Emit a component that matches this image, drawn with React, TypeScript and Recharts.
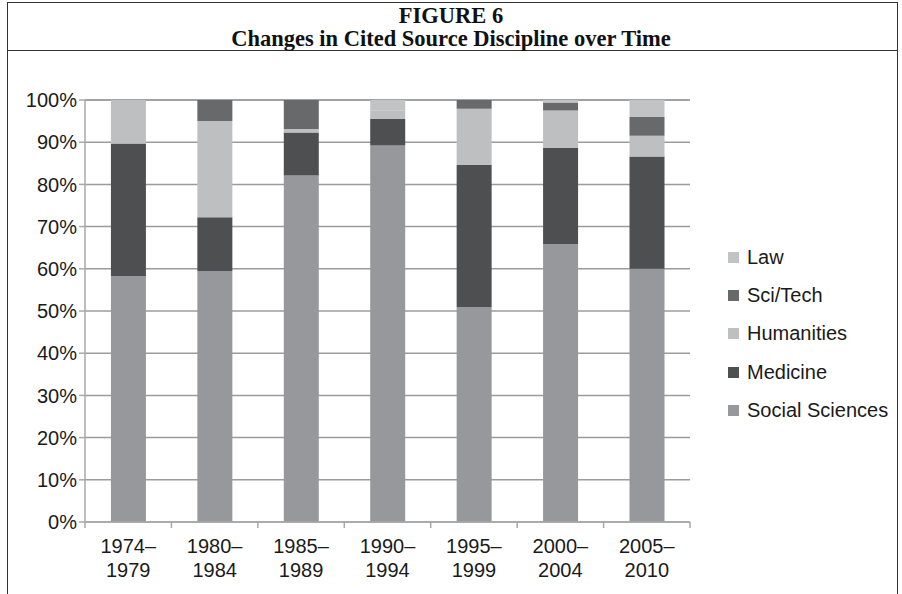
import React from 'react';
import { BarChart, Bar, XAxis, YAxis, CartesianGrid } from 'recharts';

// periods, split into the two label lines shown under each bar
const periodStart = ['1974–', '1980–', '1985–', '1990–', '1995–', '2000–', '2005–'];
const periodEnd = ['1979', '1984', '1989', '1994', '1999', '2004', '2010'];

// share of cited sources per discipline (%)
const socialSciences = [58.3, 59.5, 82.1, 89.2, 50.9, 65.9, 60.0];
const medicine = [31.4, 12.7, 10.2, 6.3, 33.7, 22.7, 26.6];
const humanities = [10.3, 22.8, 0.8, 2.1, 13.3, 8.9, 4.9];
const sciTech = [0, 5.0, 6.9, 0, 2.1, 1.9, 4.5];
const law = [0, 0, 0, 2.4, 0, 0.6, 4.0];

const yTicks = [0, 10, 20, 30, 40, 50, 60, 70, 80, 90, 100];

// bottom to top stacking order
const series = [
  { key: 'socialSciences', name: 'Social Sciences', color: '#97989b' },
  { key: 'medicine', name: 'Medicine', color: '#4e4f51' },
  { key: 'humanities', name: 'Humanities', color: '#bebfc1' },
  { key: 'sciTech', name: 'Sci/Tech', color: '#68696b' },
  { key: 'law', name: 'Law', color: '#c2c3c5' },
];

const data = periodStart.map((start, i) => ({
  period: start + periodEnd[i],
  socialSciences: socialSciences[i],
  medicine: medicine[i],
  humanities: humanities[i],
  sciTech: sciTech[i],
  law: law[i],
}));

const FONT = '"Liberation Sans", Arial, sans-serif';
const AXIS = '#a9a9a9';

// two-line period label plus the tick marks between categories
const PeriodTick = (props: any) => {
  const { x, y, index, payload, visibleTicksCount } = props;
  const half = payload && payload.offset ? payload.offset : 43.2;
  const isLast = index === (visibleTicksCount ?? periodStart.length) - 1;
  return (
    <g>
      <line x1={x - half} x2={x - half} y1={y} y2={y + 6} stroke={AXIS} strokeWidth={1.5} />
      {isLast && <line x1={x + half} x2={x + half} y1={y} y2={y + 6} stroke={AXIS} strokeWidth={1.5} />}
      <text x={x} y={y} textAnchor="middle" fontFamily={FONT} fontSize={20} fill="#1a1a1a">
        <tspan x={x} dy={31}>{periodStart[index]}</tspan>
        <tspan x={x} dy={24}>{periodEnd[index]}</tspan>
      </text>
    </g>
  );
};

export default function App() {
  const legendRows = [...series].reverse();
  return (
    <div style={{ position: 'absolute', left: 0, top: 0, width: 902, height: 594, background: '#fff', overflow: 'hidden' }}>
      {/* frame */}
      <div style={{ position: 'absolute', left: 7, top: 2, width: 891, height: 600, border: '1.5px solid #333', boxSizing: 'border-box' }} />
      <div style={{ position: 'absolute', left: 7, top: 50, width: 891, height: 0, borderTop: '1.5px solid #333' }} />
      <div style={{ position: 'absolute', left: 0, top: 4, width: 902, textAlign: 'center', fontFamily: '"Liberation Serif", "Times New Roman", serif', fontWeight: 'bold', fontSize: 22.5, lineHeight: '23px', color: '#111' }}>
        <div>FIGURE 6</div>
        <div>Changes in Cited Source Discipline over Time</div>
      </div>

      <div style={{ position: 'absolute', left: 0, top: 50 }}>
        <BarChart
          width={902}
          height={544}
          data={data}
          margin={{ top: 50, right: 212, bottom: 0, left: 8 }}
          barCategoryGap="30%"
        >
          <CartesianGrid vertical={false} stroke="#9c9c9c" strokeWidth={1.5} />
          <XAxis
            dataKey="period"
            axisLine={{ stroke: AXIS, strokeWidth: 1.5 }}
            tickLine={false}
            tickSize={0}
            tickMargin={0}
            tick={<PeriodTick />}
            interval={0}
            height={72}
          />
          <YAxis
            domain={[0, 100]}
            ticks={yTicks}
            tickFormatter={(v: number) => `${v}%`}
            width={77}
            axisLine={{ stroke: AXIS, strokeWidth: 1.5 }}
            tickLine={{ stroke: AXIS, strokeWidth: 1.5 }}
            tickSize={6}
            tick={{ fontFamily: FONT, fontSize: 20, fill: '#1a1a1a' }}
          />
          {series.map((s) => (
            <Bar key={s.key} dataKey={s.key} name={s.name} stackId="a" fill={s.color} isAnimationActive={false} />
          ))}
        </BarChart>
      </div>

      {/* legend */}
      <div style={{ position: 'absolute', left: 728, top: 238, fontFamily: FONT, fontSize: 20, color: '#1a1a1a' }}>
        {legendRows.map((s) => (
          <div key={s.key} style={{ display: 'flex', alignItems: 'center', height: 38.3 }}>
            <span style={{ display: 'inline-block', width: 11, height: 11, background: s.color, marginRight: 8 }} />
            <span>{s.name}</span>
          </div>
        ))}
      </div>
    </div>
  );
}
